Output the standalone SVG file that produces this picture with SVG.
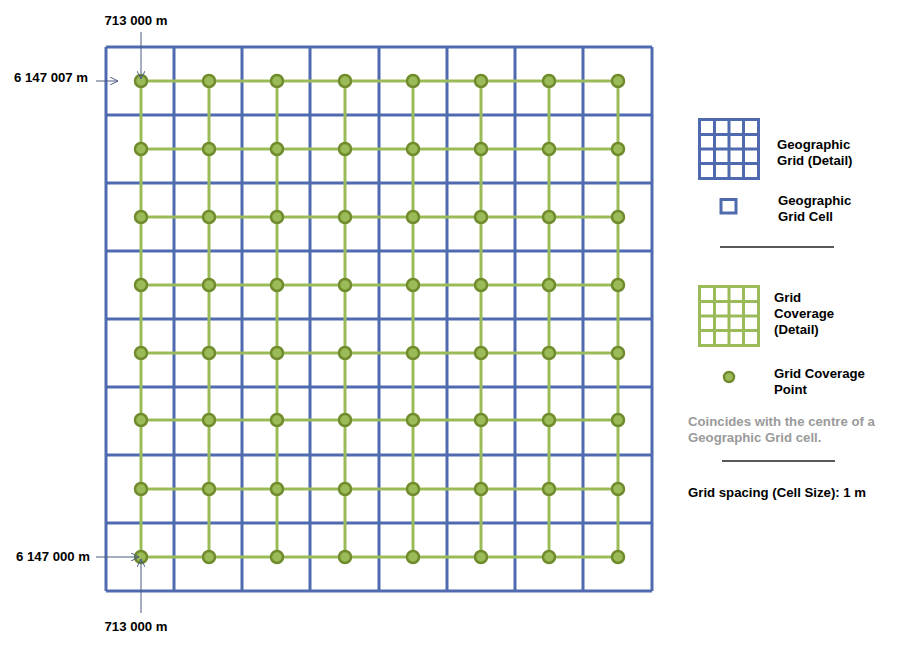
<svg xmlns="http://www.w3.org/2000/svg" width="906" height="645" viewBox="0 0 906 645">
<defs>
<style>
.bg{stroke:#4F6AAE;stroke-width:3;fill:none}
.gg{stroke:#9BBB59;stroke-width:3;fill:none}
.pt{fill:#9BBB59;stroke:#6F8B2C;stroke-width:2.5}
.t{font-family:"Liberation Sans",Arial,sans-serif;font-weight:bold;font-size:13.2px;fill:#000}
.g{fill:#9A9A9A}
.ar{stroke:#4A5A80;stroke-width:1;fill:none}
.sep{stroke:#222;stroke-width:1.5}
</style>
<marker id="ah" viewBox="0 0 10 10" refX="10" refY="5" markerWidth="8" markerHeight="8" orient="auto" markerUnits="userSpaceOnUse">
<path d="M0,0 L10,5 L0,10" fill="none" stroke="#4A5A80" stroke-width="1.2"/>
</marker>
</defs>
<rect width="906" height="645" fill="#fff"/>
<g id="geographic-grid" class="bg">
<path d="M106,47H652M106,115H652M106,183H652M106,251H652M106,319H652M106,387H652M106,455H652M106,523H652M106,591H652"/>
<path d="M106,47V591M174,47V591M242,47V591M310,47V591M379,47V591M447,47V591M515,47V591M583,47V591M652,47V591"/>
</g>
<g id="coverage-lines" class="gg">
<path d="M141,81H618M141,149H618M141,217H618M141,285H618M141,353H618M141,420H618M141,489H618M141,557H618"/>
<path d="M141,81V557M209,81V557M277,81V557M345,81V557M413,81V557M481,81V557M549,81V557M618,81V557"/>
</g>
<g id="coverage-points" class="pt">
<g id="row1"><circle cx="141" cy="81" r="6"/><circle cx="209" cy="81" r="6"/><circle cx="277" cy="81" r="6"/><circle cx="345" cy="81" r="6"/><circle cx="413" cy="81" r="6"/><circle cx="481" cy="81" r="6"/><circle cx="549" cy="81" r="6"/><circle cx="618" cy="81" r="6"/></g>
<g id="row2"><circle cx="141" cy="149" r="6"/><circle cx="209" cy="149" r="6"/><circle cx="277" cy="149" r="6"/><circle cx="345" cy="149" r="6"/><circle cx="413" cy="149" r="6"/><circle cx="481" cy="149" r="6"/><circle cx="549" cy="149" r="6"/><circle cx="618" cy="149" r="6"/></g>
<g id="row3"><circle cx="141" cy="217" r="6"/><circle cx="209" cy="217" r="6"/><circle cx="277" cy="217" r="6"/><circle cx="345" cy="217" r="6"/><circle cx="413" cy="217" r="6"/><circle cx="481" cy="217" r="6"/><circle cx="549" cy="217" r="6"/><circle cx="618" cy="217" r="6"/></g>
<g id="row4"><circle cx="141" cy="285" r="6"/><circle cx="209" cy="285" r="6"/><circle cx="277" cy="285" r="6"/><circle cx="345" cy="285" r="6"/><circle cx="413" cy="285" r="6"/><circle cx="481" cy="285" r="6"/><circle cx="549" cy="285" r="6"/><circle cx="618" cy="285" r="6"/></g>
<g id="row5"><circle cx="141" cy="353" r="6"/><circle cx="209" cy="353" r="6"/><circle cx="277" cy="353" r="6"/><circle cx="345" cy="353" r="6"/><circle cx="413" cy="353" r="6"/><circle cx="481" cy="353" r="6"/><circle cx="549" cy="353" r="6"/><circle cx="618" cy="353" r="6"/></g>
<g id="row6"><circle cx="141" cy="420" r="6"/><circle cx="209" cy="420" r="6"/><circle cx="277" cy="420" r="6"/><circle cx="345" cy="420" r="6"/><circle cx="413" cy="420" r="6"/><circle cx="481" cy="420" r="6"/><circle cx="549" cy="420" r="6"/><circle cx="618" cy="420" r="6"/></g>
<g id="row7"><circle cx="141" cy="489" r="6"/><circle cx="209" cy="489" r="6"/><circle cx="277" cy="489" r="6"/><circle cx="345" cy="489" r="6"/><circle cx="413" cy="489" r="6"/><circle cx="481" cy="489" r="6"/><circle cx="549" cy="489" r="6"/><circle cx="618" cy="489" r="6"/></g>
<g id="row8"><circle cx="141" cy="557" r="6"/><circle cx="209" cy="557" r="6"/><circle cx="277" cy="557" r="6"/><circle cx="345" cy="557" r="6"/><circle cx="413" cy="557" r="6"/><circle cx="481" cy="557" r="6"/><circle cx="549" cy="557" r="6"/><circle cx="618" cy="557" r="6"/></g>
</g>
<g id="connectors" class="ar">
<path d="M141,32V79" marker-end="url(#ah)"/>
<path d="M96,81H118" marker-end="url(#ah)"/>
<path d="M96,557H139" marker-end="url(#ah)"/>
<path d="M141,613V559" marker-end="url(#ah)"/>
</g>
<g id="coord-labels" class="t">
<text x="136" y="25" text-anchor="middle">713 000 m</text>
<text x="14" y="82">6 147 007 m</text>
<text x="16" y="561">6 147 000 m</text>
<text x="136" y="631" text-anchor="middle">713 000 m</text>
</g>
<g id="legend-geo-grid">
<path class="bg" d="M699.5,119.5h59v59h-59zM699.5,134.5h59M699.5,149h59M699.5,163.5h59M714.5,119.5v59M729,119.5v59M743.5,119.5v59"/>
<text class="t" x="777" y="149">Geographic</text>
<text class="t" x="777" y="165">Grid (Detail)</text>
</g>
<g id="legend-geo-cell">
<rect class="bg" x="721" y="199.5" width="15" height="13.5"/>
<text class="t" x="778" y="205">Geographic</text>
<text class="t" x="778" y="221">Grid Cell</text>
</g>
<line class="sep" x1="720" y1="247" x2="834" y2="247"/>
<g id="legend-coverage">
<path class="gg" d="M699.5,286.5h59v59h-59zM699.5,301.5h59M699.5,316h59M699.5,330.5h59M714.5,286.5v59M729,286.5v59M743.5,286.5v59"/>
<text class="t" x="774" y="302">Grid</text>
<text class="t" x="774" y="318">Coverage</text>
<text class="t" x="774" y="334">(Detail)</text>
</g>
<g id="legend-point">
<circle class="pt" cx="729" cy="377" r="5"/>
<text class="t" x="774" y="378">Grid Coverage</text>
<text class="t" x="774" y="394">Point</text>
</g>
<g id="legend-note">
<text class="t g" x="688" y="426">Coincides with the centre of a</text>
<text class="t g" x="688" y="442">Geographic Grid cell.</text>
</g>
<line class="sep" x1="722" y1="461" x2="835" y2="461"/>
<g id="legend-spacing">
<text class="t" x="688" y="497">Grid spacing (Cell Size): 1 m</text>
</g>
</svg>
